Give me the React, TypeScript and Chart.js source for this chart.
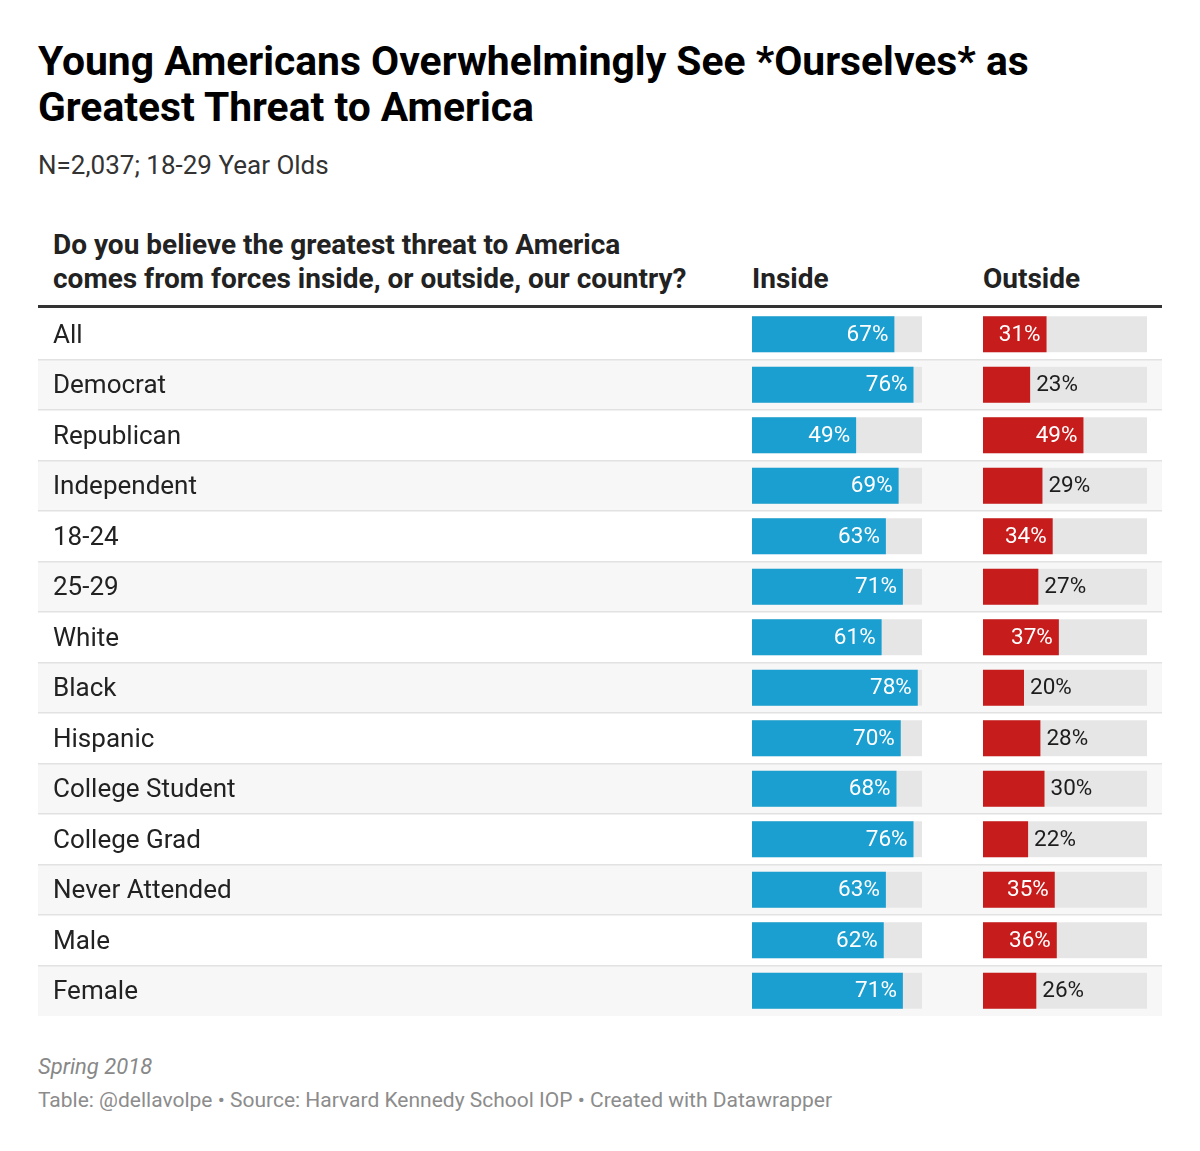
import React, { useEffect, useRef } from "react";
import { Chart, registerables } from "chart.js";

Chart.register(...registerables);

const categories = [
  "All", "Democrat", "Republican", "Independent", "18-24", "25-29", "White",
  "Black", "Hispanic", "College Student", "College Grad", "Never Attended", "Male", "Female",
];
const insideValues = [67, 76, 49, 69, 63, 71, 61, 78, 70, 68, 76, 63, 62, 71];
const outsideValues = [31, 23, 49, 29, 34, 27, 37, 20, 28, 30, 22, 35, 36, 26];
const seriesLabels = ["Inside", "Outside"];

const TITLE = "Young Americans Overwhelmingly See *Ourselves* as Greatest Threat to America";
const SUBTITLE = "N=2,037; 18-29 Year Olds";
const QUESTION = "Do you believe the greatest threat to America comes from forces inside, or outside, our country?";
const NOTE = "Spring 2018";
const SOURCE = "Table: @dellavolpe • Source: Harvard Kennedy School IOP • Created with Datawrapper";

const BLUE = "#1a9fd0";
const RED = "#c71c1c";
const TRACK = "#e6e6e6";
const STRIPE = "#f7f7f7";
const SEP = "#e2e2e2";
const TRACK_MAX = 80;
const FONT = "Roboto, 'Noto Sans', sans-serif";

// geometry (px) for the two bar columns inside the chart area
const AREA_W = 395;
const IN_TRACK_W = 170;
const OUT_OFFSET = 231;
const OUT_TRACK_W = 164;
const LABEL_SIZE = 26;
const LABEL_LH = 30; // px; Chart.js pads the axis by half of this top & bottom
const PAD_V = LABEL_LH / 2;

export default function App() {
  const ref = useRef<HTMLCanvasElement | null>(null);

  useEffect(() => {
    if (!ref.current) return;
    const inPx = IN_TRACK_W / TRACK_MAX;
    const outPx = OUT_TRACK_W / TRACK_MAX;

    const stripes = {
      id: "stripes",
      beforeDraw(chart: any) {
        const { ctx, scales, width } = chart;
        const y = scales.y;
        const n = categories.length;
        const pitch = (y.bottom - y.top) / n;
        ctx.save();
        for (let i = 0; i < n; i++) {
          const yc = y.getPixelForValue(i);
          const top = yc - pitch / 2;
          if (i % 2 === 1) {
            ctx.fillStyle = STRIPE;
            ctx.fillRect(0, top, width, pitch);
          }
          if (i > 0) {
            ctx.fillStyle = SEP;
            ctx.fillRect(0, Math.round(top) - 1, width, 1.5);
          }
        }
        ctx.restore();
      },
      beforeDatasetsDraw(chart: any) {
        const { ctx, scales } = chart;
        ctx.save();
        chart.data.datasets.forEach((ds: any, di: number) => {
          const meta = chart.getDatasetMeta(di);
          const xs = scales[ds.xAxisID];
          const x0 = xs.getPixelForValue(0);
          const x1 = xs.getPixelForValue(TRACK_MAX);
          meta.data.forEach((el: any) => {
            ctx.fillStyle = TRACK;
            ctx.fillRect(x0, el.y - el.height / 2, x1 - x0, el.height);
          });
        });
        ctx.restore();
      },
    };

    const labels = {
      id: "valueLabels",
      afterDatasetsDraw(chart: any) {
        const { ctx } = chart;
        ctx.save();
        ctx.font = `22.5px ${FONT}`;
        ctx.textBaseline = "middle";
        chart.data.datasets.forEach((ds: any, di: number) => {
          const meta = chart.getDatasetMeta(di);
          meta.data.forEach((el: any, i: number) => {
            const v = ds.data[i];
            const txt = `${v}%`;
            const inside = di === 0 || v > 30;
            if (inside) {
              ctx.fillStyle = "#ffffff";
              ctx.textAlign = "right";
              ctx.fillText(txt, el.x - 6, el.y + 1);
            } else {
              ctx.fillStyle = "#1d1d1d";
              ctx.textAlign = "left";
              ctx.fillText(txt, el.x + 6, el.y + 1);
            }
          });
        });
        ctx.restore();
      },
    };

    const chart = new Chart(ref.current, {
      type: "bar",
      data: {
        labels: categories,
        datasets: [
          {
            label: seriesLabels[0],
            data: insideValues,
            xAxisID: "xIn",
            backgroundColor: BLUE,
            grouped: false,
            barPercentage: 0.712,
            categoryPercentage: 1,
          } as any,
          {
            label: seriesLabels[1],
            data: outsideValues,
            xAxisID: "xOut",
            backgroundColor: RED,
            grouped: false,
            barPercentage: 0.712,
            categoryPercentage: 1,
          } as any,
        ],
      },
      options: {
        indexAxis: "y",
        animation: false,
        responsive: true,
        maintainAspectRatio: false,
        layout: { padding: { left: 15, right: 15, top: 0, bottom: 0 } },
        plugins: { legend: { display: false }, tooltip: { enabled: false } },
        scales: {
          y: {
            type: "category",
            offset: true,
            grid: { display: false },
            border: { display: false },
            ticks: {
              autoSkip: false,
              crossAlign: "far",
              padding: 0,
              labelOffset: 2,
              color: "#222222",
              font: { family: FONT, size: LABEL_SIZE, lineHeight: `${LABEL_LH}px` },
            },
            afterFit(scale: any) {
              scale.width = 699;
            },
          },
          xIn: {
            type: "linear",
            axis: "x",
            display: false,
            min: 0,
            max: AREA_W / inPx,
          } as any,
          xOut: {
            type: "linear",
            axis: "x",
            display: false,
            min: -OUT_OFFSET / outPx,
            max: (AREA_W - OUT_OFFSET) / outPx,
          } as any,
        },
      },
      plugins: [stripes, labels],
    });
    return () => chart.destroy();
  }, []);

  const abs = (top: number, left: number): React.CSSProperties => ({
    position: "absolute",
    top: top - 8,
    left: left - 8,
    margin: 0,
  });

  return (
    <div style={{ position: "relative", width: 1184, height: 1135, fontFamily: FONT }}>
      <div
        style={{
          ...abs(38, 38),
          width: 1060,
          fontSize: 40.8,
          lineHeight: "46px",
          fontWeight: 700,
          color: "#000",
        }}
      >
        {TITLE}
      </div>
      <div style={{ ...abs(150, 38), fontSize: 26, lineHeight: "30px", color: "#333" }}>{SUBTITLE}</div>
      <div
        style={{
          ...abs(228, 53),
          width: 640,
          fontSize: 28,
          lineHeight: "34px",
          fontWeight: 700,
          color: "#222",
        }}
      >
        {QUESTION}
      </div>
      <div style={{ ...abs(262, 752), fontSize: 28, lineHeight: "34px", fontWeight: 700, color: "#222" }}>
        {seriesLabels[0]}
      </div>
      <div style={{ ...abs(262, 983), fontSize: 28, lineHeight: "34px", fontWeight: 700, color: "#222" }}>
        {seriesLabels[1]}
      </div>
      <div style={{ ...abs(309 - PAD_V, 38), width: 1124, height: 707 + 2 * PAD_V }}>
        <canvas ref={ref} />
      </div>
      <div style={{ ...abs(305, 38), width: 1124, height: 3, background: "#333" }} />
      <div style={{ ...abs(1054, 38), fontSize: 22, lineHeight: "26px", fontStyle: "italic", color: "#888" }}>
        {NOTE}
      </div>
      <div style={{ ...abs(1087, 38), fontSize: 21, lineHeight: "26px", color: "#8c8c8c" }}>{SOURCE}</div>
    </div>
  );
}
